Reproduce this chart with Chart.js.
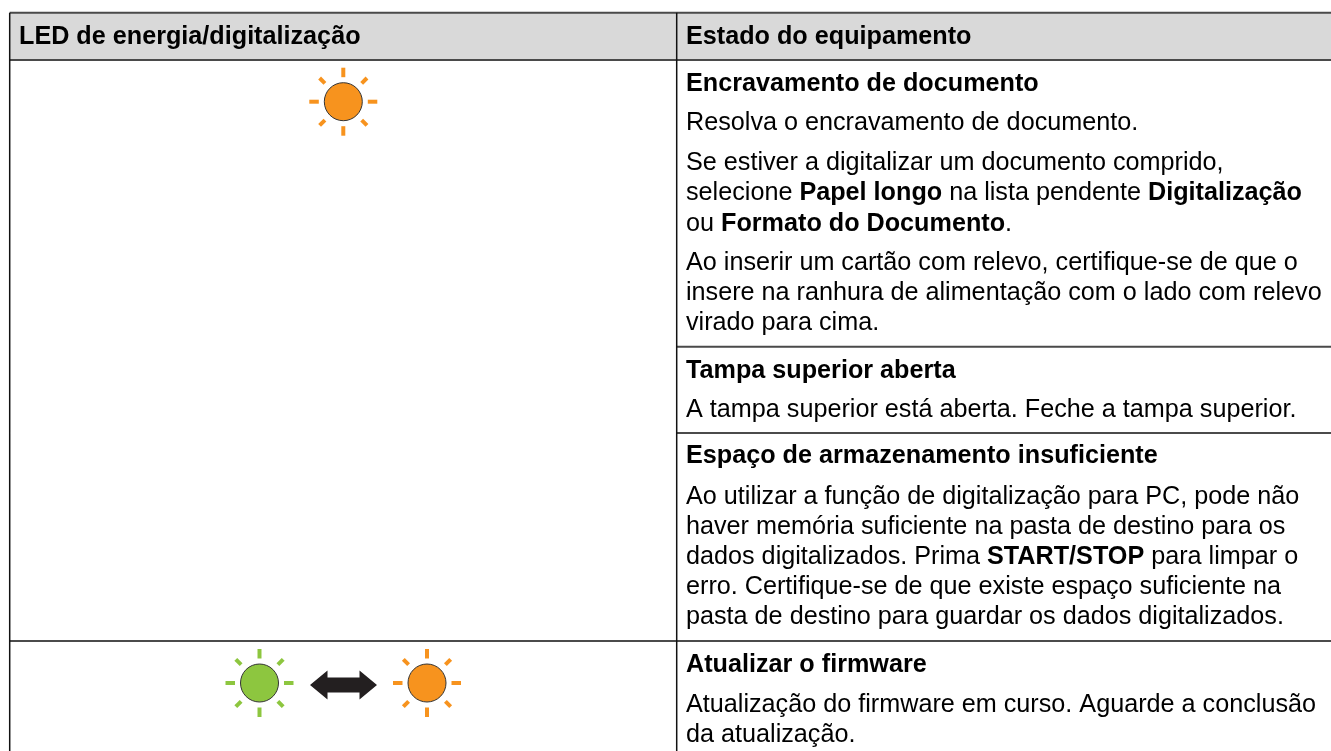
<!DOCTYPE html>
<html>
<head>
<meta charset="utf-8">
<title>LED de energia/digitalização</title>
<script src="https://cdn.jsdelivr.net/npm/chart.js@4"></script>
<style>
  html, body { margin: 0; padding: 0; background: #fff; overflow: hidden; }
  canvas { display: block; }
</style>
</head>
<body>
<canvas id="tableChart" width="1331" height="751"></canvas>
<script>
// Table content, ** marks bold text
const headers = ['LED de energia/digitalização', 'Estado do equipamento'];
const statusLines = [
  '**Encravamento de documento**',
  'Resolva o encravamento de documento.',
  'Se estiver a digitalizar um documento comprido,',
  'selecione **Papel longo** na lista pendente **Digitalização**',
  'ou **Formato do Documento**.',
  'Ao inserir um cartão com relevo, certifique-se de que o',
  'insere na ranhura de alimentação com o lado com relevo',
  'virado para cima.',
  '**Tampa superior aberta**',
  'A tampa superior está aberta. Feche a tampa superior.',
  '**Espaço de armazenamento insuficiente**',
  'Ao utilizar a função de digitalização para PC, pode não',
  'haver memória suficiente na pasta de destino para os',
  'dados digitalizados. Prima **START/STOP** para limpar o',
  'erro. Certifique-se de que existe espaço suficiente na',
  'pasta de destino para guardar os dados digitalizados.',
  '**Atualizar o firmware**',
  'Atualização do firmware em curso. Aguarde a conclusão',
  'da atualização.'
];
// Text baselines
const headerBaseline = 43.5;
const statusBaselines = [91, 129.5, 169.5, 200, 230.5, 270, 300, 330, 377.5, 416.5, 463, 503.5, 534, 564, 594, 624, 671.5, 711.5, 741.5];

// Table geometry in page units
const tableLeft = 9.7;
const tableRight = 1331;
const tableTop = 12.7;
const headerBottom = 60;
const columnX = 676.7;
const tableBottom = 751;

// LEDs
const orangeLeds = [{ x: 343.3, y: 101.7 }, { x: 427, y: 683 }];
const greenLeds = [{ x: 259.5, y: 683 }];
const arrows = [{ x: 343.5, y: 685 }];

const fontFamily = '"Liberation Sans", Arial, sans-serif';
const fontSize = 25.2;

function toSegments(rules) {
  const points = [];
  rules.forEach(r => {
    points.push({ x: r[0], y: r[1] }, { x: r[2], y: r[3] }, { x: null, y: null });
  });
  return points;
}

const greyRules = toSegments([
  [tableLeft, tableTop, tableRight, tableTop],
  [tableLeft, headerBottom, tableRight, headerBottom],
  [columnX, 346.7, tableRight, 346.7]
]);
const blackRules = toSegments([
  [tableLeft, tableTop, tableLeft, tableBottom],
  [columnX, tableTop, columnX, tableBottom],
  [columnX, 433, tableRight, 433],
  [tableLeft, 641, tableRight, 641]
]);

// Header band goes under the datasets
const headerBand = {
  id: 'headerBand',
  beforeDatasetsDraw(chart) {
    const { ctx, scales: { x, y } } = chart;
    ctx.save();
    ctx.fillStyle = '#d9d9d9';
    ctx.fillRect(x.getPixelForValue(tableLeft), y.getPixelForValue(tableTop),
      x.getPixelForValue(tableRight) - x.getPixelForValue(tableLeft),
      y.getPixelForValue(headerBottom) - y.getPixelForValue(tableTop));
    ctx.restore();
  }
};

// Rays round the LEDs
function drawRays(chart, leds, color) {
  const { ctx, scales: { x, y } } = chart;
  ctx.save();
  ctx.strokeStyle = color;
  ctx.lineWidth = 4;
  leds.forEach(led => {
    const cx = x.getPixelForValue(led.x);
    const cy = y.getPixelForValue(led.y);
    for (let i = 0; i < 8; i++) {
      const a = i * Math.PI / 4;
      const inner = i % 2 ? 26 : 24.5;
      const outer = i % 2 ? 33.5 : 34;
      ctx.beginPath();
      ctx.moveTo(cx + Math.cos(a) * inner, cy + Math.sin(a) * inner);
      ctx.lineTo(cx + Math.cos(a) * outer, cy + Math.sin(a) * outer);
      ctx.stroke();
    }
  });
  ctx.restore();
}

function drawArrow(chart, arrow) {
  const { ctx, scales: { x, y } } = chart;
  const cx = x.getPixelForValue(arrow.x);
  const cy = y.getPixelForValue(arrow.y);
  const half = 33.5, head = 17.5, shaft = 7.5, wing = 14.5;
  ctx.save();
  ctx.fillStyle = '#231f20';
  ctx.beginPath();
  ctx.moveTo(cx - half, cy);
  ctx.lineTo(cx - half + head, cy - wing);
  ctx.lineTo(cx - half + head, cy - shaft);
  ctx.lineTo(cx + half - head, cy - shaft);
  ctx.lineTo(cx + half - head, cy - wing);
  ctx.lineTo(cx + half, cy);
  ctx.lineTo(cx + half - head, cy + wing);
  ctx.lineTo(cx + half - head, cy + shaft);
  ctx.lineTo(cx - half + head, cy + shaft);
  ctx.lineTo(cx - half + head, cy + wing);
  ctx.closePath();
  ctx.fill();
  ctx.restore();
}

const ledDecor = {
  id: 'ledDecor',
  afterDatasetsDraw(chart) {
    drawRays(chart, orangeLeds, '#f7931e');
    drawRays(chart, greenLeds, '#8dc63f');
    arrows.forEach(a => drawArrow(chart, a));
  }
};

// Draws one line with its bold runs
function drawRuns(ctx, line, px, py) {
  let cursor = px;
  line.split('**').forEach((run, i) => {
    ctx.font = (i % 2 ? 'bold ' : '') + fontSize + 'px ' + fontFamily;
    ctx.fillText(run, cursor, py);
    cursor += ctx.measureText(run).width;
  });
}

const tableText = {
  id: 'tableText',
  afterDraw(chart) {
    const { ctx, scales: { x, y } } = chart;
    ctx.save();
    ctx.fillStyle = '#000';
    ctx.textBaseline = 'alphabetic';
    ctx.textAlign = 'left';
    drawRuns(ctx, '**' + headers[0] + '**', x.getPixelForValue(19), y.getPixelForValue(headerBaseline));
    drawRuns(ctx, '**' + headers[1] + '**', x.getPixelForValue(686), y.getPixelForValue(headerBaseline));
    statusLines.forEach((line, i) => {
      drawRuns(ctx, line, x.getPixelForValue(686), y.getPixelForValue(statusBaselines[i]));
    });
    ctx.restore();
  }
};

new Chart(document.getElementById('tableChart').getContext('2d'), {
  type: 'scatter',
  data: {
    datasets: [
      {
        label: 'Orange LED',
        data: orangeLeds,
        backgroundColor: '#f7931e',
        borderColor: '#333',
        borderWidth: 1,
        pointRadius: 19
      },
      {
        label: 'Green LED',
        data: greenLeds,
        backgroundColor: '#8dc63f',
        borderColor: '#333',
        borderWidth: 1,
        pointRadius: 19
      },
      {
        label: 'Black rules',
        data: blackRules,
        showLine: true,
        spanGaps: false,
        borderColor: '#111',
        borderWidth: 1.5,
        pointRadius: 0
      },
      {
        label: 'Grey rules',
        data: greyRules,
        showLine: true,
        spanGaps: false,
        borderColor: '#4a4a4a',
        borderWidth: 2,
        pointRadius: 0
      }
    ]
  },
  options: {
    responsive: false,
    animation: false,
    events: [],
    layout: { padding: 0, autoPadding: false },
    plugins: { legend: { display: false }, tooltip: { enabled: false } },
    scales: {
      x: { type: 'linear', min: 0, max: 1331, display: false },
      y: { type: 'linear', min: 0, max: 751, reverse: true, display: false }
    }
  },
  plugins: [headerBand, ledDecor, tableText]
});
</script>
</body>
</html>
